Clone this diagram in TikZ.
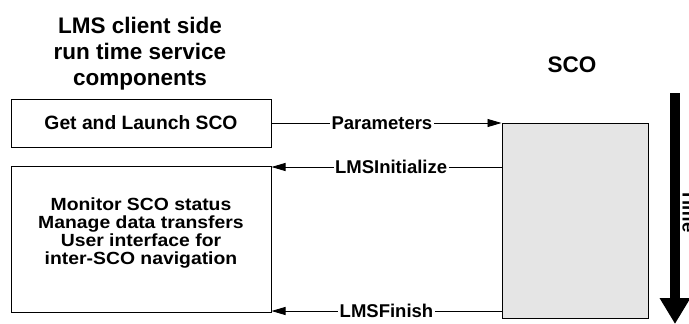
\documentclass[tikz,border=0pt]{standalone}
\usepackage{fontspec}
\setmainfont{Liberation Sans}
\newfontfamily\widesans[FakeStretch=1.1]{Liberation Sans}
\usetikzlibrary{arrows.meta}
\begin{document}
\begin{tikzpicture}[x=1pt,y=-1pt,
  box/.style={draw=black,line width=1pt,inner sep=0pt},
  lbl/.style={fill=white,inner sep=1.5pt,font=\fontsize{18.5}{20}\selectfont\bfseries},
  conn/.style={line width=0.9pt,-{Triangle[length=14pt,width=8pt]}},
  body/.style={font=\widesans\fontsize{17.6}{17.8}\selectfont\bfseries,align=center}]
\useasboundingbox (0,0) rectangle (689,324);
% title
\node[font=\fontsize{22.5}{26}\selectfont\bfseries,align=center] (title) at (140,54) {LMS client side\\run time service\\components};
\node[font=\fontsize{22.5}{26}\selectfont\bfseries] (scot) at (572,65) {SCO};
% boxes
\node[box,minimum width=260pt,minimum height=48pt] (get) at (141,123) {};
\node[font=\fontsize{19.3}{22}\selectfont\bfseries] at (get.center) {Get and Launch SCO};
\node[box,minimum width=260pt,minimum height=146pt] (mon) at (141,239) {};
\node[body] at (141,233) {Monitor SCO status\\Manage data transfers\\User interface for\\inter-SCO navigation};
\node[box,fill=black!10,minimum width=146pt,minimum height=195pt] (sco) at (575,220.5) {};
% connectors
\coordinate (p1) at (get.east);
\coordinate (p2) at (sco.west |- get.east);
\draw[conn] (p1) -- (p2) node[lbl,pos=0.48] {Parameters};
\coordinate (i1) at (sco.west |- 0,167);
\coordinate (i2) at (mon.east |- 0,167);
\draw[conn] (i1) -- (i2) node[lbl,pos=0.48] {LMSInitialize};
\coordinate (f1) at (sco.west |- 0,311);
\coordinate (f2) at (mon.east |- 0,311);
\draw[conn] (f1) -- (f2) node[lbl,pos=0.5] {LMSFinish};
% time arrow
\coordinate (t1) at (675,93);
\coordinate (t2) at (675,324);
\draw[line width=10pt,-{Triangle[length=26pt,width=29pt]}] (t1) -- (t2);
\node[font=\fontsize{18.5}{18}\selectfont\bfseries,rotate=-90,anchor=base,inner sep=0pt] (time) at (682.7,211) {Time};
\end{tikzpicture}
\end{document}
